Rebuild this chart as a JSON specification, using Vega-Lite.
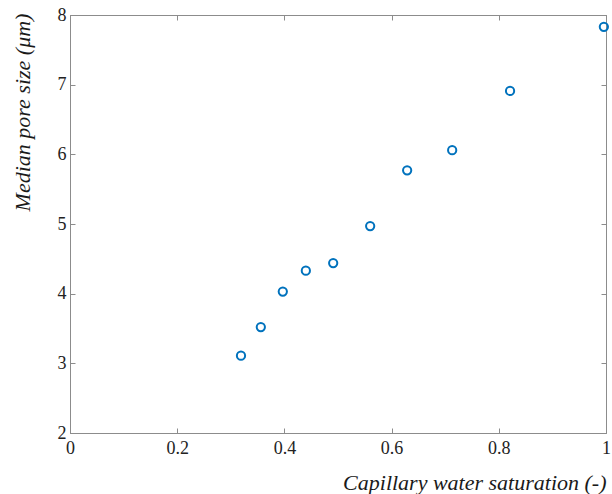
{
  "$schema": "https://vega.github.io/schema/vega-lite/v6.json",
  "autosize": {"type": "none"},
  "width": 536,
  "height": 418,
  "padding": {"left": 70, "top": 15, "right": 6, "bottom": 61},
  "background": "white",
  "data": {
    "values": [
      {"saturation": 0.319, "pore": 3.11},
      {"saturation": 0.356, "pore": 3.52},
      {"saturation": 0.397, "pore": 4.03},
      {"saturation": 0.440, "pore": 4.33},
      {"saturation": 0.491, "pore": 4.44},
      {"saturation": 0.560, "pore": 4.97},
      {"saturation": 0.629, "pore": 5.77},
      {"saturation": 0.713, "pore": 6.06},
      {"saturation": 0.821, "pore": 6.91},
      {"saturation": 0.996, "pore": 7.83}
    ]
  },
  "config": {
    "view": {"stroke": "#8c8c8c", "strokeWidth": 1},
    "axis": {
      "grid": false,
      "domainColor": "#8c8c8c",
      "domainWidth": 1,
      "tickColor": "#8c8c8c",
      "tickWidth": 1,
      "tickSize": -5,
      "labelFont": "Liberation Serif",
      "labelFontSize": 18,
      "labelColor": "#222222",
      "titleFont": "Liberation Serif",
      "titleFontStyle": "italic",
      "titleFontWeight": "normal",
      "titleFontSize": 22,
      "titleColor": "#1a1a1a"
    }
  },
  "layer": [
    {
      "mark": {"type": "point", "shape": "circle", "filled": false, "color": "#0072BD", "strokeWidth": 2, "size": 68, "opacity": 1},
      "encoding": {
        "x": {
          "field": "saturation",
          "type": "quantitative",
          "scale": {"domain": [0, 1], "nice": false, "zero": false},
          "axis": {
            "orient": "bottom",
            "values": [0, 0.2, 0.4, 0.6, 0.8, 1],
            "format": "~g",
            "labelPadding": 11,
            "labelFlush": false,
            "title": "Capillary water saturation (-)",
            "titleAnchor": "end",
            "titleAlign": "right",
            "titlePadding": 15
          }
        },
        "y": {
          "field": "pore",
          "type": "quantitative",
          "scale": {"domain": [2, 8], "nice": false, "zero": false},
          "axis": {
            "orient": "left",
            "values": [2, 3, 4, 5, 6, 7, 8],
            "format": "~g",
            "labelPadding": 9,
            "labelFlush": false,
            "title": "Median pore size (μm)",
            "titleX": -48,
            "titleY": 97,
            "titleAngle": -90,
            "titleAlign": "center",
            "titleBaseline": "middle"
          }
        }
      }
    },
    {
      "mark": {"type": "point", "opacity": 0},
      "encoding": {
        "x": {
          "field": "saturation",
          "type": "quantitative",
          "axis": {"orient": "top", "values": [0, 0.2, 0.4, 0.6, 0.8, 1], "labels": false, "title": null}
        },
        "y": {
          "field": "pore",
          "type": "quantitative",
          "axis": {"orient": "right", "values": [2, 3, 4, 5, 6, 7, 8], "labels": false, "title": null}
        }
      }
    }
  ],
  "resolve": {"axis": {"x": "independent", "y": "independent"}}
}
